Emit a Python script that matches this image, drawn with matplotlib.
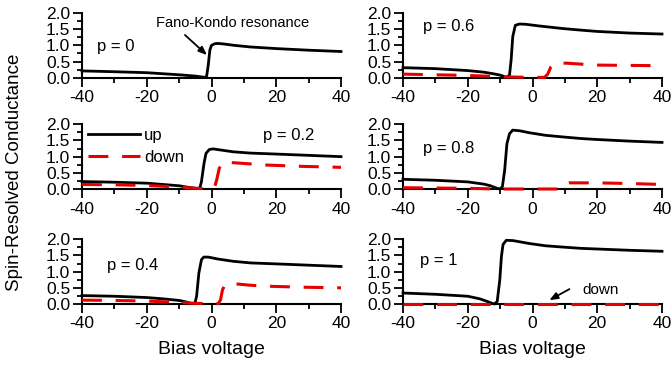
import matplotlib
matplotlib.use('Agg')
import matplotlib.pyplot as plt
from matplotlib.ticker import MultipleLocator

plt.rcParams['font.family'] = ['Liberation Sans', 'DejaVu Sans']

# bias voltage and spin-resolved conductance per panel
p_labels = ['p = 0', 'p = 0.2', 'p = 0.4', 'p = 0.6', 'p = 0.8', 'p = 1']

bias_up_p0 = [-40, -30, -20, -10, -5, -2, -1.5, -1, -0.5, 0, 1, 2, 4, 7, 12, 20, 30, 40]
g_up_p0 = [0.21, 0.185, 0.155, 0.09, 0.05, 0.01, 0.05, 0.39, 0.86, 1.0, 1.05, 1.06, 1.04,
           1.0, 0.95, 0.9, 0.85, 0.81]

bias_up_p02 = [-40, -30, -20, -15, -10, -7.7, -4.6, -3.6, -3.1, -2.3, -1.7, -0.7, 0.5, 2.5,
               6.7, 12, 20, 30, 40]
g_up_p02 = [0.23, 0.21, 0.18, 0.14, 0.10, 0.06, 0.02, 0.03, 0.23, 0.80, 1.10, 1.22, 1.24,
            1.21, 1.15, 1.11, 1.08, 1.04, 1.0]
bias_dn_p02 = [-40, -30, -20, -10, -5, 0, 1.0, 1.6, 2.4, 3.4, 5.7, 10, 17, 28, 40]
g_dn_p02 = [0.14, 0.13, 0.11, 0.06, 0.02, 0.01, 0.07, 0.28, 0.64, 0.81, 0.82, 0.79, 0.74,
            0.70, 0.67]

bias_up_p04 = [-40, -30, -20, -15, -10, -7.7, -6.1, -5.1, -4.6, -3.9, -3.1, -2.4, -1, 2,
               6.7, 12, 20, 30, 40]
g_up_p04 = [0.26, 0.24, 0.20, 0.16, 0.11, 0.06, 0.01, 0.03, 0.24, 0.96, 1.37, 1.45, 1.45,
            1.39, 1.32, 1.27, 1.24, 1.20, 1.16]
bias_dn_p04 = [-40, -30, -20, -10, -5, 2.1, 2.8, 3.4, 4.1, 5.5, 7.7, 12, 17, 28, 40]
g_dn_p04 = [0.12, 0.11, 0.09, 0.05, 0.02, 0.01, 0.13, 0.44, 0.58, 0.62, 0.62, 0.58, 0.55,
            0.52, 0.50]

bias_up_p06 = [-40, -30, -20, -15, -12, -10, -9.1, -8.1, -7.1, -6.6, -6.1, -5.3, -4.0, -2,
               2, 9.3, 15, 20, 30, 40]
g_up_p06 = [0.31, 0.28, 0.22, 0.17, 0.12, 0.08, 0.05, 0.01, 0.08, 0.55, 1.27, 1.62, 1.66,
            1.65, 1.60, 1.52, 1.47, 1.43, 1.38, 1.35]
bias_dn_p06 = [-40, -30, -20, -10, -1, 3.7, 4.7, 5.7, 6.8, 10.4, 15, 19.6, 30, 40]
g_dn_p06 = [0.11, 0.09, 0.07, 0.03, 0.01, 0.01, 0.11, 0.34, 0.44, 0.45, 0.42, 0.39, 0.38,
            0.37]

bias_up_p08 = [-40, -30, -20, -15, -13, -11.2, -10.1, -9.3, -8.6, -7.9, -7.1, -6.1, -4, -1,
               4, 9.3, 15, 20, 30, 40]
g_up_p08 = [0.30, 0.27, 0.22, 0.15, 0.10, 0.03, 0.0, 0.07, 0.58, 1.40, 1.71, 1.82, 1.80,
            1.74, 1.66, 1.61, 1.56, 1.53, 1.48, 1.44]
bias_dn_p08 = [-40, -30, -20, -10, 8.3, 9.8, 11.4, 19.6, 30, 40]
g_dn_p08 = [0.04, 0.03, 0.02, 0.0, 0.0, 0.15, 0.19, 0.19, 0.17, 0.14]

bias_up_p1 = [-40, -30, -20, -16.3, -14, -12.5, -11.7, -10.9, -10.1, -9.6, -9.1, -8.1, -6,
              -1, 4, 9.3, 15, 20, 30, 40]
g_up_p1 = [0.34, 0.30, 0.24, 0.16, 0.08, 0.02, 0.0, 0.08, 0.75, 1.47, 1.84, 1.97, 1.96,
           1.87, 1.80, 1.76, 1.72, 1.70, 1.66, 1.63]
bias_dn_p1 = [-40, 40]
g_dn_p1 = [0, 0]

x_ticks = [-40, -20, 0, 20, 40]

RED = '#e60000'
DASH = (0, (6.5, 4.5))


def style_axes(ax):
    ax.set_xlim(-40, 40)
    ax.set_ylim(0, 2)
    for s in ['top', 'right']:
        ax.spines[s].set_visible(False)
    ax.spines['left'].set_linewidth(1.5)
    ax.spines['bottom'].set_linewidth(1.5)
    ax.set_xticks(x_ticks)
    ax.set_xticklabels([str(t) for t in x_ticks])
    ax.xaxis.set_minor_locator(MultipleLocator(10))
    ax.yaxis.set_major_locator(MultipleLocator(0.5))
    ax.yaxis.set_minor_locator(MultipleLocator(0.25))
    ax.yaxis.set_major_formatter(plt.FuncFormatter(lambda v, _: '%.1f' % v))
    ax.tick_params(which='major', direction='out', length=6.5, width=1.3,
                   labelsize=12.5, pad=2.5)
    ax.tick_params(which='minor', direction='out', length=3.5, width=1.3)
    ax.tick_params(axis='y', which='major', pad=2)
    ax.patch.set_visible(False)


fig = plt.figure(figsize=(6.72, 3.67), dpi=100)
W, H = 672, 367
lefts = [82 / W, 403 / W]
bottoms = [1 - 77.7 / H, 1 - 189 / H, 1 - 304 / H]
aw, ah = 259 / W, 64.7 / H

panels = [
    (0, 0, bias_up_p0, g_up_p0, None, None),
    (1, 0, bias_up_p02, g_up_p02, bias_dn_p02, g_dn_p02),
    (2, 0, bias_up_p04, g_up_p04, bias_dn_p04, g_dn_p04),
    (0, 1, bias_up_p06, g_up_p06, bias_dn_p06, g_dn_p06),
    (1, 1, bias_up_p08, g_up_p08, bias_dn_p08, g_dn_p08),
    (2, 1, bias_up_p1, g_up_p1, bias_dn_p1, g_dn_p1),
]
label_pos = [(-35.4, 0.95), (15.9, 1.64), (-32.3, 1.2),
             (-33.8, 1.57), (-33.8, 1.24), (-34.8, 1.36)]

axes = []
for i, (r, c, bu, gu, bd, gd) in enumerate(panels):
    ax = fig.add_axes([lefts[c], bottoms[r], aw, ah])
    style_axes(ax)
    ax.plot(bu, gu, color='black', lw=2, clip_on=False, zorder=3, label='up')
    if bd is not None:
        ax.plot(bd, gd, color=RED, lw=2.2, ls=DASH, clip_on=False, zorder=4,
                label='down')
    ax.text(label_pos[i][0], label_pos[i][1], p_labels[i], fontsize=12,
            ha='left', va='center')
    if r == 2:
        ax.set_xlabel('Bias voltage', fontsize=14, labelpad=7)
    axes.append(ax)

# legend in the p = 0.2 panel
axes[1].legend(loc='upper left', bbox_to_anchor=(0.023, 0.95), frameon=False,
               fontsize=12, handlelength=3.1, handletextpad=0.25,
               labelspacing=0.45, borderpad=0, borderaxespad=0)

# annotations
axes[0].text(6.6, 1.69, 'Fano-Kondo resonance', fontsize=10.5, ha='center',
             va='center')
axes[0].annotate('', xy=(-1.4, 0.70), xytext=(-8.2, 1.32),
                 arrowprops=dict(arrowstyle='-|>,head_length=0.5,head_width=0.2',
                                 color='black', lw=1.3, shrinkA=0, shrinkB=0))
axes[5].text(15.4, 0.43, 'down', fontsize=11, ha='left', va='center')
axes[5].annotate('', xy=(5.2, 0.12), xytext=(11.4, 0.46),
                 arrowprops=dict(arrowstyle='-|>,head_length=0.5,head_width=0.2',
                                 color='black', lw=1.3, shrinkA=0, shrinkB=0))

fig.text(15 / W, 0.53, 'Spin-Resolved Conductance', rotation=90, fontsize=13.5,
         ha='center', va='center')

fig.savefig('out.png', dpi=100)
